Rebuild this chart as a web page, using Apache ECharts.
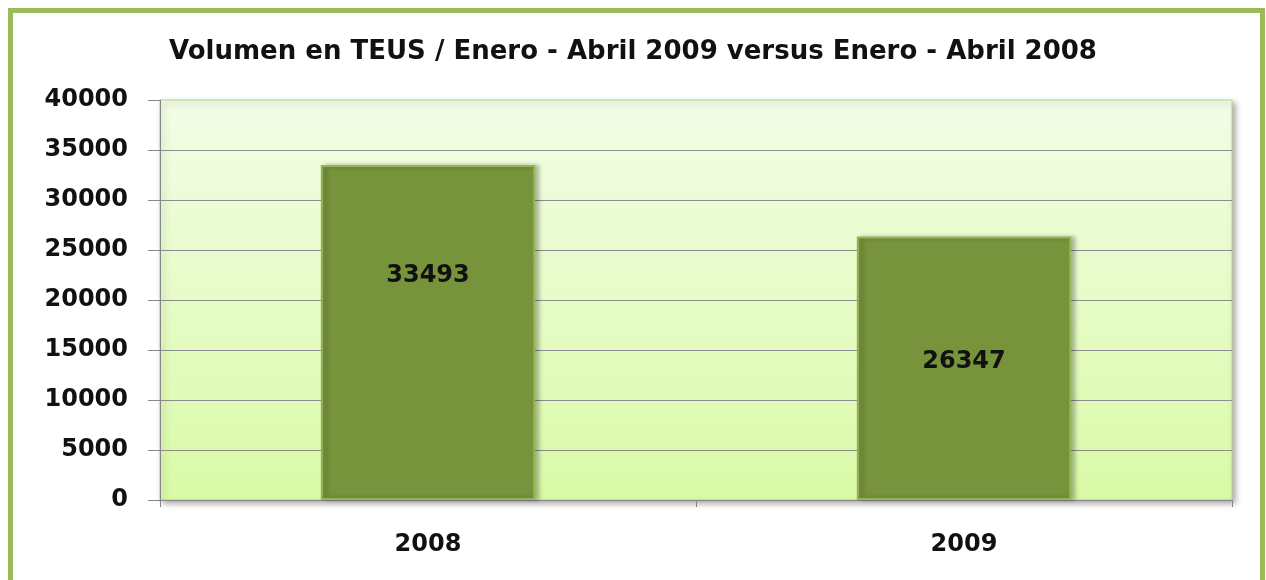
<!DOCTYPE html>
<html>
<head>
<meta charset="utf-8">
<title>Volumen en TEUS</title>
<script src="https://cdn.jsdelivr.net/npm/echarts@6/dist/echarts.min.js"></script>
<style>
  html, body { margin: 0; padding: 0; background: #fff; }
  #chart { width: 1266px; height: 580px; }
</style>
</head>
<body>
<div id="chart"></div>
<script>
// data
const years = ['2008', '2009']
const teus = [33493, 26347]
const yTicks = [0, 5000, 10000, 15000, 20000, 25000, 30000, 35000, 40000]

const font = 'DejaVu Sans'
const chart = echarts.init(document.getElementById('chart'))

chart.setOption({
  animation: false,
  title: {
    text: 'Volumen en TEUS / Enero - Abril 2009 versus Enero - Abril 2008',
    left: 'center',
    top: 34,
    textStyle: {
      fontFamily: font,
      fontSize: 26,
      fontWeight: 'bold',
      color: '#111'
    }
  },
  graphic: [
    {
      type: 'rect',
      silent: true,
      shape: { x: 10.5, y: 10.5, width: 1252, height: 620 },
      style: { fill: 'none', stroke: '#9bbb59', lineWidth: 5 }
    }
  ],
  grid: {
    left: 160,
    right: 34,
    top: 100,
    bottom: 80,
    show: true,
    borderColor: '#b5d88a',
    borderWidth: 1,
    backgroundColor: new echarts.graphic.LinearGradient(0, 0, 0, 1, [
      { offset: 0, color: '#f3fde7' },
      { offset: 1, color: '#d9faa6' }
    ]),
    shadowColor: 'rgba(0,0,0,0.35)',
    shadowBlur: 6,
    shadowOffsetX: 3,
    shadowOffsetY: 3
  },
  xAxis: {
    type: 'category',
    data: years,
    boundaryGap: true,
    axisLine: { lineStyle: { color: '#868686', width: 1 } },
    axisTick: { show: true, length: 7, lineStyle: { color: '#868686' } },
    axisLabel: {
      margin: 33,
      fontFamily: font,
      fontSize: 24,
      fontWeight: 'bold',
      color: '#111'
    }
  },
  yAxis: {
    type: 'value',
    min: yTicks[0],
    max: yTicks[yTicks.length - 1],
    interval: yTicks[1] - yTicks[0],
    axisLine: { show: true, lineStyle: { color: '#868686', width: 1 } },
    axisTick: { show: true, length: 12, lineStyle: { color: '#868686' } },
    axisLabel: {
      margin: 32,
      formatter: v => String(v),
      fontFamily: font,
      fontSize: 24,
      fontWeight: 'bold',
      color: '#111'
    },
    splitLine: {
      show: true,
      showMaxLine: false,
      lineStyle: { color: '#8c8c8c', width: 1 }
    }
  },
  series: [
    {
      type: 'bar',
      barWidth: '40%',
      data: teus.map((v, i) => ({
        value: v,
        label: i === 0 ? { position: ['50%', '34.7%'] } : {}
      })),
      itemStyle: {
        color: '#77933c',
        borderColor: '#94b556',
        borderWidth: 2,
        shadowColor: 'rgba(0,0,0,0.25)',
        shadowBlur: 4,
        shadowOffsetX: 4,
        shadowOffsetY: 0
      },
      label: {
        show: true,
        position: 'inside',
        offset: [0, -6],
        fontFamily: font,
        fontSize: 24,
        fontWeight: 'bold',
        color: '#111',
        align: 'center',
        verticalAlign: 'middle'
      }
    }
  ]
})
</script>
</body>
</html>
